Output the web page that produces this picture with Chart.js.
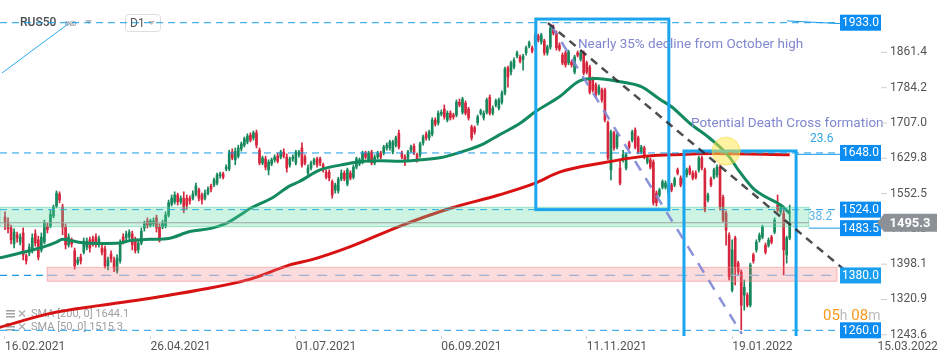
<!DOCTYPE html>
<html>
<head>
<meta charset="utf-8">
<script src="https://cdn.jsdelivr.net/npm/chart.js@4.4.0/dist/chart.umd.min.js"></script>
<style>
  html, body { margin: 0; padding: 0; background: #fff; }
  #wrap { width: 950px; height: 361px; position: relative; }
</style>
</head>
<body>
<div id="wrap"><canvas id="chart"></canvas></div>
<script>
// RUS50 daily candles (bar 0 = 16.02.2021)
const opens = [
  1508,1497,1484,1449,1469,1453,1473,1423,1429,1434,
  1471,1458,1436,1453,1488,1488,1510,1532,1558,1530,
  1486,1447,1458,1434,1407,1420,1431,1442,1458,1460,
  1464,1449,1440,1438,1401,1427,1414,1390,1412,1464,
  1462,1464,1471,1458,1436,1451,1484,1499,1490,1493,
  1506,1486,1486,1488,1512,1536,1541,1556,1541,1549,
  1549,1549,1549,1558,1567,1556,1549,1560,1576,1578,
  1582,1598,1602,1613,1613,1650,1633,1641,1657,1665,
  1672,1687,1681,1692,1654,1626,1635,1611,1624,1633,
  1641,1639,1650,1639,1622,1635,1626,1644,1659,1639,
  1604,1615,1626,1635,1635,1622,1606,1606,1585,1567,
  1565,1591,1604,1580,1604,1595,1617,1624,1628,1648,
  1633,1650,1626,1639,1648,1648,1659,1659,1650,1665,
  1691,1648,1639,1637,1654,1663,1644,1644,1670,1689,
  1681,1689,1720,1714,1733,1744,1720,1735,1731,1731,
  1759,1737,1757,1744,1705,1703,1714,1735,1725,1737,
  1770,1735,1753,1746,1759,1779,1834,1825,1836,1860,
  1858,1853,1867,1882,1878,1886,1904,1891,1893,1867,
  1880,1921,1910,1884,1862,1867,1845,1847,1825,1867,
  1853,1867,1845,1836,1810,1797,1779,1786,1786,1714,
  1611,1692,1661,1615,1633,1615,1670,1676,1698,1681,
  1650,1659,1628,1633,1628,1560,1556,1573,1573,1560,
  1578,1578,1611,1593,1582,1600,1615,1604,1604,1611,
  1637,1611,1545,1591,1595,1600,1617,1551,1516,1468,
  1348,1462,1407,1387,1337,1337,1315,1425,1436,1458,
  1464,1446,1446,1464,1475,1534,1519,1516,1425,1462
];
const highs = [
  1519,1506,1490,1482,1475,1471,1484,1427,1449,1471,
  1480,1466,1473,1501,1495,1523,1534,1565,1563,1536,
  1493,1471,1462,1440,1420,1427,1462,1462,1464,1466,
  1471,1466,1447,1444,1420,1434,1420,1425,1458,1471,
  1477,1480,1477,1464,1455,1484,1499,1506,1503,1506,
  1512,1493,1501,1519,1545,1556,1563,1560,1554,1563,
  1556,1554,1565,1582,1571,1560,1567,1574,1580,1593,
  1604,1606,1606,1622,1654,1657,1659,1665,1672,1683,
  1690,1692,1696,1698,1659,1641,1641,1633,1637,1644,
  1648,1654,1657,1646,1639,1644,1654,1654,1670,1644,
  1622,1630,1637,1639,1639,1626,1611,1611,1589,1582,
  1595,1611,1609,1615,1609,1622,1639,1637,1652,1652,
  1652,1654,1644,1652,1652,1665,1670,1676,1676,1685,
  1698,1652,1644,1654,1665,1668,1648,1672,1687,1694,
  1698,1725,1725,1740,1742,1753,1740,1740,1735,1764,
  1766,1770,1762,1748,1709,1707,1731,1744,1740,1768,
  1775,1751,1766,1768,1784,1836,1838,1849,1856,1871,
  1862,1864,1882,1893,1882,1910,1908,1910,1897,1884,
  1928,1928,1915,1889,1867,1871,1873,1851,1862,1871,
  1871,1871,1849,1840,1814,1801,1797,1790,1790,1718,
  1698,1696,1692,1633,1654,1648,1674,1698,1703,1685,
  1665,1663,1641,1637,1633,1565,1571,1589,1587,1580,
  1582,1595,1615,1598,1598,1615,1620,1609,1609,1641,
  1641,1615,1560,1595,1615,1622,1622,1556,1521,1473,
  1458,1466,1411,1392,1370,1342,1407,1429,1458,1473,
  1490,1451,1462,1468,1506,1556,1534,1528,1466,1534
];
const lows = [
  1480,1473,1449,1440,1453,1447,1414,1405,1423,1429,
  1444,1414,1431,1449,1473,1484,1506,1528,1539,1469,
  1438,1442,1442,1394,1403,1405,1427,1436,1431,1444,
  1442,1442,1425,1396,1392,1409,1388,1385,1407,1449,
  1458,1460,1436,1429,1429,1447,1477,1484,1486,1488,
  1475,1453,1482,1484,1508,1532,1536,1534,1536,1517,
  1525,1536,1545,1554,1543,1536,1545,1556,1563,1574,
  1578,1593,1591,1609,1609,1633,1622,1637,1652,1661,
  1668,1672,1676,1659,1622,1622,1611,1600,1620,1628,
  1626,1635,1637,1606,1617,1630,1622,1639,1617,1622,
  1600,1611,1622,1617,1620,1606,1591,1587,1549,1560,
  1560,1587,1587,1576,1589,1591,1613,1620,1624,1635,
  1628,1622,1622,1635,1635,1644,1654,1654,1646,1661,
  1657,1635,1620,1633,1650,1644,1628,1639,1665,1676,
  1676,1685,1707,1709,1729,1722,1716,1720,1722,1727,
  1749,1733,1731,1720,1676,1689,1709,1731,1720,1733,
  1731,1731,1749,1742,1755,1775,1792,1819,1832,1856,
  1845,1829,1862,1878,1867,1882,1891,1886,1862,1862,
  1875,1906,1873,1871,1841,1836,1841,1836,1821,1858,
  1849,1819,1821,1777,1781,1770,1775,1759,1716,1633,
  1589,1654,1657,1578,1628,1611,1657,1672,1657,1646,
  1646,1635,1624,1613,1534,1532,1552,1569,1569,1556,
  1563,1574,1600,1574,1578,1595,1600,1589,1591,1606,
  1611,1519,1541,1574,1591,1595,1523,1497,1446,1370,
  1344,1359,1381,1261,1304,1311,1311,1407,1431,1453,
  1460,1427,1442,1449,1471,1519,1514,1381,1407,1458
];
const closes = [
  1495,1482,1458,1475,1462,1464,1425,1412,1442,1462,
  1451,1420,1464,1495,1480,1514,1530,1560,1545,1486,
  1447,1464,1449,1401,1414,1412,1455,1455,1440,1451,
  1451,1460,1431,1401,1414,1416,1396,1418,1451,1455,
  1471,1475,1447,1434,1451,1477,1493,1490,1499,1499,
  1484,1462,1495,1512,1539,1549,1556,1541,1549,1523,
  1534,1543,1558,1576,1549,1545,1560,1569,1569,1589,
  1600,1602,1595,1617,1650,1637,1652,1659,1668,1679,
  1685,1676,1692,1665,1626,1637,1617,1628,1633,1639,
  1630,1650,1641,1615,1635,1639,1650,1650,1622,1626,
  1615,1626,1633,1622,1626,1611,1595,1593,1556,1578,
  1591,1604,1591,1611,1593,1617,1635,1633,1648,1639,
  1648,1626,1639,1648,1639,1661,1665,1672,1672,1681,
  1661,1639,1628,1650,1661,1648,1633,1668,1683,1681,
  1694,1720,1711,1735,1737,1727,1735,1725,1727,1759,
  1753,1766,1735,1725,1681,1694,1727,1740,1735,1764,
  1735,1746,1762,1764,1779,1832,1814,1845,1851,1867,
  1849,1860,1878,1889,1871,1906,1895,1906,1867,1880,
  1921,1910,1878,1875,1845,1841,1869,1841,1858,1862,
  1867,1823,1825,1781,1786,1775,1792,1764,1720,1637,
  1694,1659,1687,1582,1644,1644,1661,1694,1661,1650,
  1661,1639,1637,1617,1539,1539,1567,1585,1582,1576,
  1567,1591,1604,1578,1593,1611,1604,1593,1595,1637,
  1615,1523,1556,1578,1611,1617,1530,1501,1479,1377,
  1436,1398,1388,1315,1354,1315,1403,1412,1453,1468,
  1486,1431,1457,1453,1501,1523,1530,1436,1462,1495
];

// moving averages, sampled along the drawn curves (bar index, value)
const sma50Idx = [-2,8,13,17,19,22,25,31,38,41,48,54,61,68,73,78,81,88,94,97,104,111,117,124,130,137,144,150,157,163,170,175,183,190,195,203,210,216,220,226,233,239,242,247,251,256,259];
const sma50Val = [1418,1434,1443,1453,1459,1456,1452,1450,1451,1456,1459,1461,1476,1483,1494,1514,1527,1549,1576,1585,1611,1622,1629,1631,1630,1633,1638,1649,1665,1687,1713,1738,1771,1807,1811,1804,1793,1766,1749,1713,1678,1640,1611,1570,1552,1534,1516];
const sma200Idx = [-2,15,31,48,64,81,94,101,114,130,147,163,175,183,197,210,220,234,259];
const sma200Val = [1266,1297,1314,1330,1348,1372,1403,1414,1443,1487,1527,1556,1582,1606,1626,1640,1644,1647,1644];

// axes
const xTickIdx = [0, 48, 96, 144, 192, 240, 288];
const xTickLabels = ['16.02.2021', '26.04.2021', '01.07.2021', '06.09.2021', '11.11.2021', '19.01.2022', '15.03.2022'];
const yTickValues = [1861.4, 1784.2, 1707.0, 1629.8, 1552.5, 1475.3, 1398.1, 1320.9, 1243.6];
const X_MIN = -1.65, X_MAX = 311.9;
const Y_MIN = 1247.5, Y_MAX = 1982.7;

// drawn levels and zones (prices)
const levels = [1933, 1648, 1524, 1483.5, 1380, 1260];
const lastPrice = 1495.3;
const sma200Last = 1644.1, sma50Last = 1515.3;

const UP = '#16885b', DOWN = '#d6253c';
const isUp = i => closes[i] >= opens[i];

const bodies = closes.map((c, i) => ({ x: i, y: [opens[i], c] }));
const wicks = highs.map((h, i) => ({ x: i, y: [lows[i], h] }));

function dashLine(ctx, x1, y1, x2, y2, color, width, dash) {
  ctx.save();
  ctx.strokeStyle = color;
  ctx.lineWidth = width;
  ctx.setLineDash(dash || []);
  ctx.beginPath();
  ctx.moveTo(x1, y1);
  ctx.lineTo(x2, y2);
  ctx.stroke();
  ctx.restore();
}

const overlay = {
  id: 'overlay',
  beforeDatasetsDraw(chart) {
    const { ctx } = chart;
    ctx.save();
    // header
    ctx.font = '500 12px Roboto';
    ctx.fillStyle = '#4a4d52';
    ctx.textBaseline = 'middle';
    ctx.fillText('RUS50', 20, 23);
    ctx.font = 'bold 7px Roboto';
    ctx.fillStyle = '#9aa3ab';
    ctx.fillText('IND', 65, 24);
    ctx.fillStyle = '#bdbdbd';
    ctx.beginPath(); ctx.moveTo(85, 20); ctx.lineTo(92, 20); ctx.lineTo(88.5, 24); ctx.fill();
    ctx.strokeStyle = '#dedede';
    ctx.lineWidth = 1;
    ctx.beginPath(); ctx.roundRect(125.5, 14.5, 35, 17, 3); ctx.stroke();
    ctx.font = '12px Roboto';
    ctx.fillStyle = '#555';
    ctx.fillText('D1', 130, 23.5);
    ctx.fillStyle = '#bdbdbd';
    ctx.beginPath(); ctx.moveTo(148, 21); ctx.lineTo(155, 21); ctx.lineTo(151.5, 25); ctx.fill();
    // SMA legend
    ctx.font = '11px Roboto';
    ctx.fillStyle = '#a0a0a0';
    [[314, 'SMA [200, 0] ' + sma200Last.toFixed(1)], [327, 'SMA [50, 0] ' + sma50Last.toFixed(1)]].forEach(([yy, t]) => {
      ctx.fillRect(6, yy - 4, 9, 1.5); ctx.fillRect(6, yy - 1, 9, 1.5); ctx.fillRect(6, yy + 2, 9, 1.5);
      dashLine(ctx, 19, yy - 3.5, 25, yy + 2.5, '#b0b0b0', 1.5);
      dashLine(ctx, 25, yy - 3.5, 19, yy + 2.5, '#b0b0b0', 1.5);
      ctx.fillText(t, 31, yy);
    });
    ctx.restore();
  },
  afterDatasetsDraw(chart) {
    const { ctx, scales: { x, y } } = chart;
    const X = v => x.getPixelForValue(v);
    const Y = v => y.getPixelForValue(v);
    const BLUE = '#1b9be8';
    const lineEnd = X(275.6);
    ctx.save();

    // horizontal levels
    [1933, 1648, 1524, 1260].forEach(v => dashLine(ctx, X(X_MIN), Y(v), lineEnd, Y(v), BLUE, 1, [7, 5]));
    dashLine(ctx, X(X_MIN), Y(1380), X(13.9), Y(1380), BLUE, 1.2, [7, 5]);

    // zones
    ctx.fillStyle = 'rgba(88,215,162,0.3)';
    ctx.fillRect(X(X_MIN), Y(1529.1), X(265.3) - X(X_MIN), Y(1486.7) - Y(1529.1));
    ctx.strokeStyle = 'rgba(90,205,160,0.55)';
    ctx.lineWidth = 1;
    ctx.strokeRect(X(X_MIN), Y(1529.1), X(265.3) - X(X_MIN), Y(1486.7) - Y(1529.1));
    dashLine(ctx, X(X_MIN), Y(lastPrice), X(265.3), Y(lastPrice), '#9aa6a0', 1);

    ctx.fillStyle = 'rgba(240,110,115,0.25)';
    ctx.fillRect(X(13.9), Y(1397.8), X(274.6) - X(13.9), Y(1367.2) - Y(1397.8));
    ctx.strokeStyle = 'rgba(240,140,145,0.55)';
    ctx.strokeRect(X(13.9), Y(1397.8), X(274.6) - X(13.9), Y(1367.2) - Y(1397.8));
    dashLine(ctx, X(13.9), Y(1380), X(274.6), Y(1380), '#9db0d6', 1.2, [10, 8]);

    // small trend-line ends at the right
    dashLine(ctx, X(258.1), Y(1937), X(275.6), Y(1931), BLUE, 1);
    dashLine(ctx, X(261.4), Y(1645), X(275.6), Y(1645), BLUE, 1);
    dashLine(ctx, X(265.3), Y(1483.5), X(275.6), Y(1483.5), BLUE, 1);

    // rectangles
    ctx.strokeStyle = '#19a6ee';
    ctx.lineWidth = 3;
    ctx.strokeRect(X(175.2), Y(1941), X(219.1) - X(175.2), Y(1524) - Y(1941));
    ctx.beginPath();
    ctx.moveTo(X(224.1), Y(Y_MIN)); ctx.lineTo(X(224.1), Y(1652.3));
    ctx.lineTo(X(261.1), Y(1652.3)); ctx.lineTo(X(261.1), Y(Y_MIN));
    ctx.stroke();

    // trend lines
    dashLine(ctx, X(180.2), Y(1928), X(243.2), Y(1252), 'rgba(128,134,214,0.9)', 2.5, [11, 9]);
    dashLine(ctx, X(179.2), Y(1932.4), X(279.9), Y(1376.6), 'rgba(45,45,50,0.85)', 2.5, [8, 6]);

    // death cross marker
    ctx.beginPath();
    ctx.arc(X(238), Y(1652), 14, 0, Math.PI * 2);
    ctx.fillStyle = 'rgba(255,232,70,0.5)';
    ctx.fill();
    ctx.strokeStyle = 'rgba(245,215,60,0.6)';
    ctx.lineWidth = 1;
    ctx.stroke();

    // notes
    ctx.font = '13.5px Roboto';
    ctx.fillStyle = '#7f87cf';
    ctx.textBaseline = 'middle';
    ctx.textAlign = 'left';
    ctx.fillText('Nearly 35% decline from October high', X(189.1), Y(1885.3));
    ctx.fillText('Potential Death Cross formation', X(226.4), Y(1711.4));
    ctx.font = '12px Roboto';
    ctx.fillStyle = '#33a6e6';
    ctx.fillText('23.6', X(265.7), Y(1678.6));
    ctx.fillStyle = '#5ab5ea';
    ctx.fillText('38.2', X(265.3), Y(1506.8));

    // y axis labels (right)
    ctx.font = '12px Roboto';
    ctx.fillStyle = '#555';
    yTickValues.forEach(v => {
      const py = Y(v) - 3;
      dashLine(ctx, 881, py, 887, py, '#cfcfcf', 1);
      ctx.fillText(v.toFixed(1), 890, py);
    });

    // level price boxes
    ctx.textAlign = 'center';
    levels.forEach(v => {
      const py = Y(v);
      ctx.fillStyle = v === 1380 ? '#1a9ff0' : '#0b8cf2';
      ctx.fillRect(840, py - 8, 41, 16);
      ctx.fillStyle = '#fff';
      ctx.fillText(v.toFixed(1), 860.5, py + 0.5);
    });

    // last price tag
    const lp = Y(lastPrice);
    ctx.fillStyle = '#8b9196';
    ctx.beginPath();
    ctx.moveTo(877, lp); ctx.lineTo(884, lp - 9); ctx.lineTo(937, lp - 9);
    ctx.lineTo(937, lp + 9); ctx.lineTo(884, lp + 9); ctx.closePath();
    ctx.fill();
    ctx.fillStyle = '#fff';
    ctx.font = 'bold 13px Roboto';
    ctx.fillText(lastPrice.toFixed(1), 910, lp + 0.5);

    // countdown
    ctx.textAlign = 'left';
    const parts = [['05', '#f7981d', '15px'], ['h', '#bcbcbc', '14px'], [' 08', '#f7981d', '15px'], ['m', '#bcbcbc', '14px']];
    let cx = 823;
    parts.forEach(([t, c, s]) => {
      ctx.font = s + ' Roboto';
      ctx.fillStyle = c;
      ctx.fillText(t, cx, 316);
      cx += ctx.measureText(t).width;
    });

    // blue drawing line at top left
    dashLine(ctx, 2, 73, 68, 24, '#2aa9f0', 1);
    ctx.restore();
  }
};

new Chart(document.getElementById('chart'), {
  type: 'bar',
  data: {
    datasets: [
      {
        type: 'line',
        data: sma50Idx.map((v, k) => ({ x: v, y: sma50Val[k] })),
        borderColor: '#138a5e',
        borderWidth: 3,
        pointRadius: 0,
        cubicInterpolationMode: 'monotone'
      },
      {
        type: 'line',
        data: sma200Idx.map((v, k) => ({ x: v, y: sma200Val[k] })),
        borderColor: '#d81212',
        borderWidth: 3,
        pointRadius: 0,
        cubicInterpolationMode: 'monotone'
      },
      {
        data: bodies,
        barThickness: 2,
        grouped: false,
        backgroundColor: ctx => isUp(ctx.dataIndex) ? UP : DOWN
      },
      {
        data: wicks,
        barThickness: 1,
        grouped: false,
        backgroundColor: ctx => isUp(ctx.dataIndex) ? UP : DOWN
      }
    ]
  },
  options: {
    responsive: true,
    maintainAspectRatio: false,
    animation: false,
    devicePixelRatio: 1,
    layout: { padding: 0 },
    plugins: { legend: { display: false }, tooltip: { enabled: false } },
    scales: {
      x: {
        type: 'linear',
        min: X_MIN,
        max: X_MAX,
        offset: false,
        afterBuildTicks: s => { s.ticks = xTickIdx.map(v => ({ value: v })); },
        afterFit: s => { s.height = 25; },
        ticks: {
          autoSkip: false,
          maxRotation: 0,
          align: 'start',
          padding: 1,
          color: '#555',
          font: { family: 'Roboto', size: 12 },
          callback: (v, i) => xTickLabels[i]
        },
        grid: { drawOnChartArea: false, drawTicks: true, tickLength: 3, color: '#cfcfcf', offset: false },
        border: { display: false }
      },
      y: {
        display: false,
        min: Y_MIN,
        max: Y_MAX
      }
    }
  },
  plugins: [overlay]
});
</script>
</body>
</html>
